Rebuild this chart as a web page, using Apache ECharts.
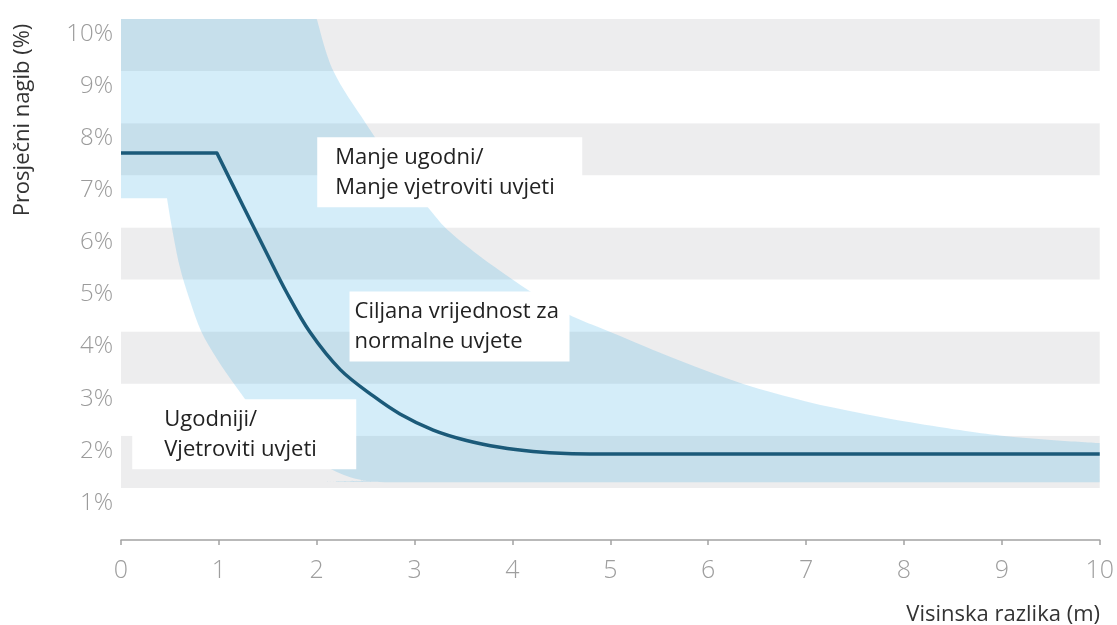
<!DOCTYPE html>
<html><head><meta charset="utf-8">
<script src="https://cdn.jsdelivr.net/npm/echarts@6/dist/echarts.min.js"></script>
<style>html,body{margin:0;padding:0;background:#fff}#c{width:1117px;height:625px}</style>
</head><body><div id="c"></div>
<script>
// x: Visinska razlika (m), y: Prosječni nagib (%)
const xTicks = [0,1,2,3,4,5,6,7,8,9,10];
const yTicks = [1,2,3,4,5,6,7,8,9,10];
const targetFlatLeft = [[0,7.43],[0.98,7.43]];
const targetCurve = [[0.98,7.43],[1.25,6.4],[1.49,5.5],[1.69,4.76],[1.93,3.99],[2.24,3.27],[2.58,2.76],[2.85,2.42],[3.19,2.11],[3.53,1.91],[3.87,1.78],[4.21,1.7],[4.55,1.66],[5.0,1.65]];
const targetFlatRight = [[5.0,1.65],[10,1.65]];
const rangeTop = [[0,10],[2.0,10]];
const rangeUpper = [[2.0,10],[2.17,9],[2.5,8],[2.83,7.1],[3.16,6.33],[3.35,5.93],[3.65,5.47],[4.0,5.0],[4.35,4.57],[4.65,4.26],[5.03,3.97],[5.7,3.45],[6.35,3.0],[7.0,2.66],[7.55,2.44],[8.0,2.28],[8.57,2.11],[9.0,2.0],[9.5,1.92],[10,1.86]];
const rangeLower = [[0.47,6.56],[0.52,6.0],[0.6,5.25],[0.7,4.62],[0.82,4.0],[0.98,3.48],[1.15,3.01],[1.3,2.63],[1.45,2.3],[1.6,2.02],[1.8,1.72],[2.0,1.49],[2.2,1.31],[2.35,1.2],[2.5,1.14],[2.7,1.11],[10,1.11]];
const rangeLeftStep = [[0,6.56],[0.47,6.56]];
const noteTexts = ['Manje ugodni/\nManje vjetroviti uvjeti','Ciljana vrijednost za\nnormalne uvjete','Ugodniji/\nVjetroviti uvjeti'];
const notePos = [[2.01,7.72],[2.34,4.76],[0.12,2.69]];
const xName = 'Visinska razlika (m)';
const yName = 'Prosječni nagib (%)';

// smooth path helper (Catmull-Rom -> cubic Bezier) over pixel points
function smoothPath(px){
  let d = 'L' + px[0][0] + ' ' + px[0][1];
  for (let i=0;i<px.length-1;i++){
    const p0 = px[Math.max(0,i-1)], p1 = px[i], p2 = px[i+1], p3 = px[Math.min(px.length-1,i+2)];
    const c1 = [p1[0]+(p2[0]-p0[0])/6, p1[1]+(p2[1]-p0[1])/6];
    const c2 = [p2[0]-(p3[0]-p1[0])/6, p2[1]-(p3[1]-p1[1])/6];
    d += 'C'+c1[0]+' '+c1[1]+' '+c2[0]+' '+c2[1]+' '+p2[0]+' '+p2[1];
  }
  return d;
}

const chart = echarts.init(document.getElementById('c'), null, {renderer:'canvas'});
const boxStyles = [
  {padding:[5,0,5,18], width:247},
  {padding:[5,0,5,5], width:215},
  {padding:[5,0,5,32], width:192}
];
const option = {
  animation:false,
  grid:{left:121,right:17,top:19,bottom:85},
  xAxis:{type:'value',min:0,max:10,interval:1,offset:3,
    axisLine:{show:true,lineStyle:{color:'#a3a3a3',width:1.5}},
    axisTick:{show:true,length:5,lineStyle:{color:'#a3a3a3',width:1.5}},
    axisLabel:{fontFamily:'Open Sans',fontWeight:300,fontSize:25,color:'#9e9e9e',margin:15,
      formatter:v=>xTicks.includes(v)?String(v):''},
    splitLine:{show:false}},
  yAxis:{type:'value',min:0,max:10,interval:1,
    axisLine:{show:false},axisTick:{show:false},splitLine:{show:false},
    splitArea:{show:true,areaStyle:{color:['#ffffff','#ededee']}},
    axisLabel:{fontFamily:'Open Sans',fontWeight:300,fontSize:24,color:'#9b9b9b',margin:8,verticalAlign:'top',lineHeight:30,
      formatter:v=>yTicks.includes(v)?v+'%':''}},
  series:[
    {type:'custom',clip:true,silent:true,data:[0],
      renderItem:(params,api)=>{
        const c = arr=>arr.map(p=>api.coord(p));
        const top = c(rangeTop);
        let d = 'M'+top[0].join(' ')+' L'+top[1].join(' ');
        d += ' ' + smoothPath(c(rangeUpper));
        d += ' ' + smoothPath(c(rangeLower.slice().reverse()));
        const step = c(rangeLeftStep);
        d += ' L'+step[0].join(' ') + ' Z';
        return {type:'path',shape:{pathData:d},style:{fill:'rgba(50,169,227,0.21)'}};
      }},
    {type:'custom',clip:true,silent:true,data:[0],z:3,
      renderItem:(params,api)=>{
        const c = arr=>arr.map(p=>api.coord(p));
        const a = c(targetFlatLeft), b = c(targetCurve), e = c(targetFlatRight);
        const d = 'M'+a[0].join(' ')+' L'+a[1].join(' ')+' '+smoothPath(b)+' L'+e[1].join(' ');
        return {type:'path',shape:{pathData:d},style:{fill:null,stroke:'#1b5a79',lineWidth:3.5,lineJoin:'round'}};
      }},
    {type:'scatter',symbolSize:1,z:4,itemStyle:{color:'rgba(0,0,0,0)',opacity:1},silent:true,
      data:notePos.map((p,i)=>({value:p,
        label:Object.assign({show:true,position:[0,0],align:'left',verticalAlign:'top',
          formatter:noteTexts[i],backgroundColor:'#ffffff',lineHeight:30,opacity:1,
          fontFamily:'Open Sans',fontSize:22,color:'#222222'},boxStyles[i])}))}
  ],
  graphic:[
    {type:'text',x:1100,y:615,style:{text:xName,align:'right',verticalAlign:'middle',fontFamily:'Open Sans',fontSize:22,fill:'#333333'}},
    {type:'text',x:23,y:120,rotation:Math.PI/2,style:{text:yName,align:'center',verticalAlign:'middle',fontFamily:'Open Sans',fontSize:22,fill:'#333333'}}
  ]
};
chart.setOption(option);
</script></body></html>
